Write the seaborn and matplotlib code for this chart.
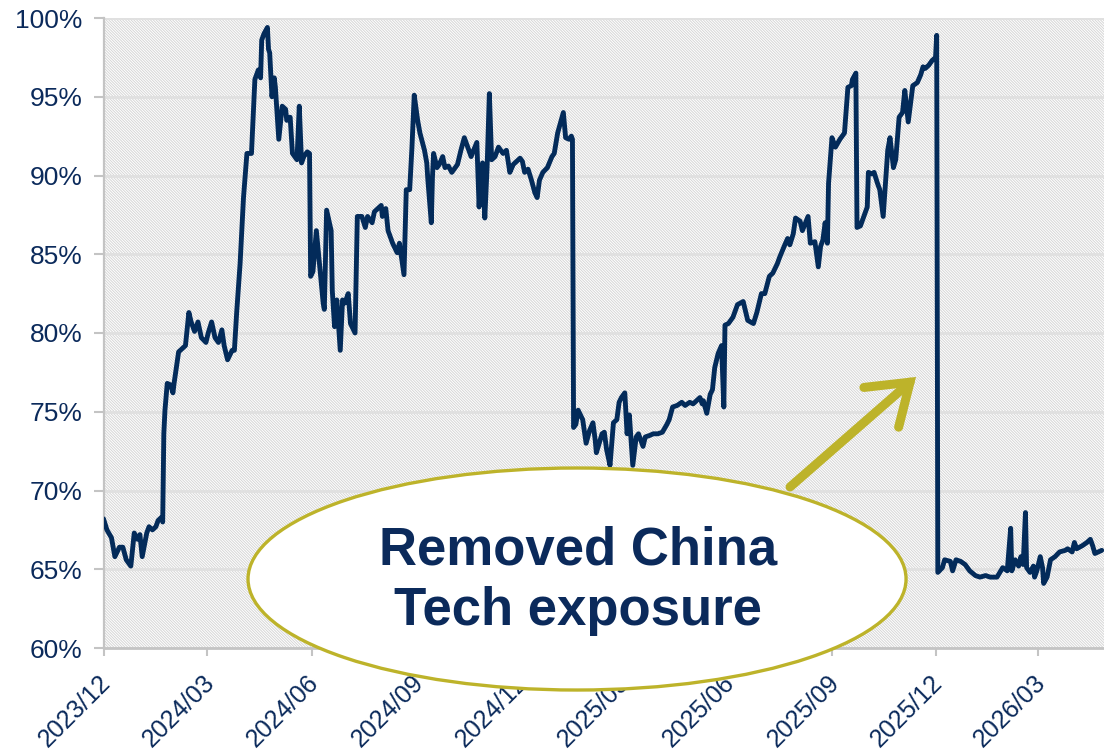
import matplotlib
matplotlib.use("Agg")
import matplotlib.pyplot as plt
import matplotlib.transforms as mtransforms
from matplotlib.patches import Ellipse, Rectangle, FancyArrowPatch, ArrowStyle
from matplotlib.ticker import FuncFormatter
import seaborn as sns
import pandas as pd

# ---------------- data ----------------
dates = [
    "2023-12-01", "2023-12-04", "2023-12-08", "2023-12-11", "2023-12-15", "2023-12-18", "2023-12-21", "2023-12-25", "2023-12-28", "2023-12-31",
    "2024-01-02", "2024-01-04", "2024-01-08", "2024-01-10", "2024-01-13", "2024-01-16", "2024-01-18", "2024-01-21", "2024-01-22", "2024-01-23", "2024-01-24", "2024-01-26", "2024-01-29", "2024-01-31",
    "2024-02-01", "2024-02-03", "2024-02-05", "2024-02-08", "2024-02-11", "2024-02-14", "2024-02-16", "2024-02-19", "2024-02-22", "2024-02-25", "2024-02-29",
    "2024-03-02", "2024-03-05", "2024-03-08", "2024-03-11", "2024-03-14", "2024-03-16", "2024-03-19", "2024-03-23", "2024-03-25", "2024-03-27", "2024-03-30",
    "2024-04-02", "2024-04-05", "2024-04-09", "2024-04-12", "2024-04-15", "2024-04-17", "2024-04-18", "2024-04-20", "2024-04-23", "2024-04-24", "2024-04-25", "2024-04-27", "2024-04-29", "2024-04-30",
    "2024-05-03", "2024-05-06", "2024-05-09", "2024-05-10", "2024-05-13", "2024-05-15", "2024-05-19", "2024-05-21", "2024-05-23", "2024-05-25", "2024-05-28", "2024-05-30", "2024-05-31",
    "2024-06-02", "2024-06-05", "2024-06-08", "2024-06-11", "2024-06-12", "2024-06-14", "2024-06-18", "2024-06-19", "2024-06-21", "2024-06-23", "2024-06-26", "2024-06-28", "2024-06-30",
    "2024-07-03", "2024-07-05", "2024-07-09", "2024-07-11", "2024-07-15", "2024-07-18", "2024-07-20", "2024-07-24", "2024-07-26", "2024-07-29",
    "2024-08-01", "2024-08-02", "2024-08-05", "2024-08-07", "2024-08-11", "2024-08-15", "2024-08-17", "2024-08-21", "2024-08-23", "2024-08-26", "2024-08-28", "2024-08-30",
    "2024-09-02", "2024-09-04", "2024-09-08", "2024-09-10", "2024-09-11", "2024-09-14", "2024-09-15", "2024-09-16", "2024-09-19", "2024-09-21", "2024-09-24", "2024-09-26", "2024-09-29",
    "2024-10-02", "2024-10-05", "2024-10-07", "2024-10-10", "2024-10-13", "2024-10-16", "2024-10-19", "2024-10-20", "2024-10-24", "2024-10-26", "2024-10-27", "2024-10-29", "2024-10-31",
    "2024-11-02", "2024-11-04", "2024-11-06", "2024-11-09", "2024-11-12", "2024-11-16", "2024-11-19", "2024-11-22", "2024-11-25", "2024-11-28",
    "2024-12-01", "2024-12-03", "2024-12-05", "2024-12-08", "2024-12-11", "2024-12-14", "2024-12-16", "2024-12-18", "2024-12-21", "2024-12-25", "2024-12-29", "2024-12-31",
    "2025-01-03", "2025-01-08", "2025-01-10", "2025-01-13", "2025-01-15", "2025-01-16", "2025-01-17", "2025-01-19", "2025-01-21", "2025-01-25", "2025-01-28", "2025-01-31",
    "2025-02-03", "2025-02-05", "2025-02-06", "2025-02-11", "2025-02-13", "2025-02-15", "2025-02-18", "2025-02-21", "2025-02-24", "2025-02-26", "2025-02-28",
    "2025-03-03", "2025-03-05", "2025-03-07", "2025-03-10", "2025-03-13", "2025-03-15", "2025-03-19", "2025-03-21", "2025-03-25", "2025-03-28",
    "2025-04-01", "2025-04-05", "2025-04-09", "2025-04-11", "2025-04-14", "2025-04-18", "2025-04-22", "2025-04-25", "2025-04-29",
    "2025-05-02", "2025-05-05", "2025-05-08", "2025-05-10", "2025-05-11", "2025-05-14", "2025-05-17", "2025-05-19", "2025-05-21", "2025-05-24", "2025-05-27", "2025-05-29", "2025-05-30",
    "2025-06-02", "2025-06-06", "2025-06-10", "2025-06-15", "2025-06-19", "2025-06-24", "2025-06-27",
    "2025-07-01", "2025-07-04", "2025-07-08", "2025-07-11", "2025-07-15", "2025-07-17", "2025-07-21", "2025-07-24", "2025-07-26", "2025-07-29", "2025-07-31",
    "2025-08-04", "2025-08-06", "2025-08-11", "2025-08-13", "2025-08-17", "2025-08-20", "2025-08-22", "2025-08-24", "2025-08-26", "2025-08-28", "2025-08-29",
    "2025-09-01", "2025-09-04", "2025-09-08", "2025-09-12", "2025-09-15", "2025-09-18", "2025-09-19", "2025-09-22", "2025-09-23", "2025-09-26", "2025-09-28",
    "2025-10-02", "2025-10-03", "2025-10-06", "2025-10-08", "2025-10-11", "2025-10-13", "2025-10-16", "2025-10-18", "2025-10-20", "2025-10-22", "2025-10-25", "2025-10-27", "2025-10-30",
    "2025-11-02", "2025-11-04", "2025-11-07", "2025-11-11", "2025-11-15", "2025-11-18", "2025-11-20", "2025-11-22", "2025-11-25", "2025-11-28",
    "2025-12-01", "2025-12-02", "2025-12-03", "2025-12-07", "2025-12-09", "2025-12-14", "2025-12-16", "2025-12-19", "2025-12-23", "2025-12-27", "2025-12-31",
    "2026-01-05", "2026-01-09", "2026-01-14", "2026-01-18", "2026-01-24", "2026-01-29",
    "2026-02-02", "2026-02-05", "2026-02-06", "2026-02-09", "2026-02-12", "2026-02-14", "2026-02-16", "2026-02-18", "2026-02-19", "2026-02-22", "2026-02-25", "2026-02-26", "2026-02-28",
    "2026-03-03", "2026-03-05", "2026-03-06", "2026-03-09", "2026-03-12", "2026-03-16", "2026-03-20", "2026-03-25", "2026-03-27", "2026-03-31",
    "2026-04-02", "2026-04-04", "2026-04-09", "2026-04-13", "2026-04-16", "2026-04-18", "2026-04-20", "2026-04-23", "2026-04-26",
]

exposure_pct = [
    68.2, 67.5, 67.0, 65.8, 66.4, 66.4, 65.6, 65.2, 67.3, 66.9,
    67.2, 65.8, 67.3, 67.7, 67.5, 67.7, 68.1, 68.3, 68.0, 73.6, 75.1, 76.8, 76.7, 76.2,
    76.8, 77.8, 78.8, 79.0, 79.2, 81.3, 80.7, 80.1, 80.7, 79.7, 79.4,
    80.0, 80.7, 79.7, 79.4, 80.2, 79.2, 78.3, 78.9, 78.9, 81.3, 84.4,
    88.6, 91.4, 91.4, 96.1, 96.7, 96.2, 98.6, 99.0, 99.4, 98.0, 97.8, 95.0, 96.2, 95.6,
    92.3, 94.4, 94.2, 93.5, 93.7, 91.4, 91.0, 94.4, 90.8, 91.2, 91.5, 91.4, 83.6,
    83.9, 86.5, 84.2, 81.9, 81.5, 87.8, 86.5, 82.7, 80.4, 82.1, 78.9, 82.1, 81.9,
    82.5, 80.6, 80.0, 87.4, 87.4, 86.7, 87.4, 87.0, 87.7, 87.9,
    88.1, 87.4, 87.9, 86.5, 85.7, 85.1, 85.7, 83.7, 89.1, 89.1, 91.8, 95.1,
    93.5, 92.7, 91.6, 90.8, 89.7, 87.0, 89.9, 91.4, 90.5, 90.7, 91.2, 90.5, 90.6,
    90.2, 90.5, 90.7, 91.6, 92.4, 91.8, 91.2, 91.4, 92.1, 88.0, 89.6, 90.8, 87.3,
    90.5, 95.2, 91.0, 91.2, 91.8, 91.4, 91.6, 90.2, 90.7, 90.9,
    91.1, 90.9, 90.2, 90.4, 89.7, 88.9, 88.6, 89.7, 90.2, 90.5, 91.2, 91.4,
    92.7, 94.0, 92.4, 92.3, 92.5, 92.3, 74.0, 74.2, 75.1, 74.5, 73.0, 73.8,
    74.3, 73.2, 72.4, 73.6, 73.7, 72.6, 71.6, 74.3, 74.5, 75.6, 75.9,
    76.2, 73.6, 74.8, 71.6, 73.4, 73.6, 72.8, 73.4, 73.5, 73.6,
    73.6, 73.7, 74.2, 74.5, 75.3, 75.4, 75.6, 75.4, 75.6,
    75.5, 75.7, 75.9, 75.5, 75.7, 74.9, 76.1, 76.4, 77.8, 78.7, 79.2, 75.3, 80.5,
    80.6, 81.0, 81.8, 82.0, 80.8, 80.6, 81.3,
    82.5, 82.5, 83.6, 83.8, 84.4, 84.8, 85.5, 86.0, 85.6, 86.3, 87.3,
    87.1, 86.5, 87.4, 85.7, 85.8, 84.2, 85.5, 85.9, 87.0, 85.7, 89.5,
    92.4, 91.8, 92.3, 92.7, 95.6, 95.7, 96.1, 96.5, 86.7, 86.8, 87.2,
    88.0, 90.2, 90.1, 90.2, 89.5, 89.1, 87.4, 89.5, 91.6, 92.4, 90.5, 91.0, 93.7,
    94.0, 95.4, 93.4, 95.7, 95.9, 96.4, 96.9, 96.8, 97.0, 97.3,
    97.5, 98.9, 64.8, 65.1, 65.6, 65.5, 64.9, 65.6, 65.5, 65.3, 64.9,
    64.6, 64.5, 64.6, 64.5, 64.5, 65.1,
    64.9, 67.6, 64.9, 65.6, 65.2, 65.8, 65.3, 68.6, 65.1, 64.8, 65.2, 64.5, 64.9,
    65.8, 65.1, 64.1, 64.5, 65.6, 65.8, 66.1, 66.2, 66.3, 66.1,
    66.7, 66.3, 66.5, 66.7, 66.9, 66.5, 66.0, 66.1, 66.2,
]

tick_dates = ["2023-12-01", "2024-03-01", "2024-06-01", "2024-09-01", "2024-12-01",
              "2025-03-01", "2025-06-01", "2025-09-01", "2025-12-01", "2026-03-01"]
tick_labels = ["2023/12", "2024/03", "2024/06", "2024/09", "2024/12",
               "2025/03", "2025/06", "2025/09", "2025/12", "2026/03"]
y_ticks = [60, 65, 70, 75, 80, 85, 90, 95, 100]
x_range = ["2023-12-01", "2026-04-28"]
annotation_text = "Removed China\nTech exposure"

assert len(dates) == len(exposure_pct)

# ---------------- style ----------------
NAVY = "#0b2a5b"
LINE = "#032b5a"
OLIVE = "#bdb32a"
GRID = "#e0e0e0"
SPINE = "#c4c4c4"

sns.set_theme(style="white")
plt.rcParams["font.family"] = ["Liberation Sans", "DejaVu Sans"]
plt.rcParams["hatch.linewidth"] = 0.7

W, H = 1104, 752
fig = plt.figure(figsize=(W / 100, H / 100), dpi=100)
left_px, right_px, top_px, bottom_px = 103.5, 1104, 18, 648
ax = fig.add_axes([left_px / W, 1 - bottom_px / H,
                   (right_px - left_px) / W, (bottom_px - top_px) / H])

df = pd.DataFrame({"date": pd.to_datetime(dates), "exposure": exposure_pct})

# hatched plot-area background
ax.set_facecolor("white")
bg = Rectangle((0, 0), 1, 1, transform=ax.transAxes, facecolor="white",
               edgecolor="#d6d6d6", hatch="\\" * 12, lw=0, zorder=0)
ax.add_patch(bg)

sns.lineplot(data=df, x="date", y="exposure", ax=ax, color=LINE, lw=3.5,
             zorder=3, legend=False)

ax.set_xlim(pd.to_datetime(x_range[0]), pd.to_datetime(x_range[1]))
ax.set_ylim(y_ticks[0], y_ticks[-1])
ax.set_yticks(y_ticks)
ax.yaxis.set_major_formatter(FuncFormatter(lambda v, p: f"{v:.0f}%"))
ax.set_xticks(pd.to_datetime(tick_dates))
ax.set_xticklabels(tick_labels)
ax.set_xlabel("")
ax.set_ylabel("")

ax.grid(False)
ax.yaxis.grid(True, color=GRID, lw=2, zorder=1)
ax.set_axisbelow(True)

for s in ["top", "right"]:
    ax.spines[s].set_visible(False)
ax.spines["left"].set_color(SPINE)
ax.spines["left"].set_linewidth(1.6)
ax.spines["bottom"].set_color(SPINE)
ax.spines["bottom"].set_linewidth(2)

ax.tick_params(axis="y", which="major", direction="out", length=7, width=1.5,
               color=SPINE, labelsize=19, labelcolor=NAVY, pad=8, left=True)
ax.tick_params(axis="x", which="major", direction="out", length=6, width=1.5,
               color=SPINE, labelsize=18, labelcolor=NAVY, pad=10, bottom=True)

offset = mtransforms.ScaledTranslation(-5 / 100, 0, fig.dpi_scale_trans)
for lab in ax.get_xticklabels():
    lab.set_rotation(45)
    lab.set_ha("right")
    lab.set_va("top")
    lab.set_rotation_mode("anchor")
    lab.set_transform(lab.get_transform() + offset)

# annotation ellipse (drawn over tick labels)
ell = Ellipse((0.4733, 0.1095), 0.6577, 0.3524, transform=ax.transAxes,
              facecolor="white", edgecolor=OLIVE, lw=2.4, zorder=10, clip_on=False)
ax.add_patch(ell)
ax.text(0.4743, 0.1065, annotation_text, transform=ax.transAxes, ha="center",
        va="center", fontsize=38, fontweight="bold", color=NAVY, zorder=11,
        linespacing=1.27)

arrow = FancyArrowPatch((0.6862, 0.2556), (0.8121, 0.4302), transform=ax.transAxes,
                        arrowstyle=ArrowStyle("->", head_length=0.55, head_width=0.38),
                        mutation_scale=50, color=OLIVE, lw=6.5, shrinkA=0, shrinkB=0,
                        capstyle="round", joinstyle="miter", zorder=9, clip_on=False)
ax.add_patch(arrow)

fig.savefig("out.png", dpi=100)
